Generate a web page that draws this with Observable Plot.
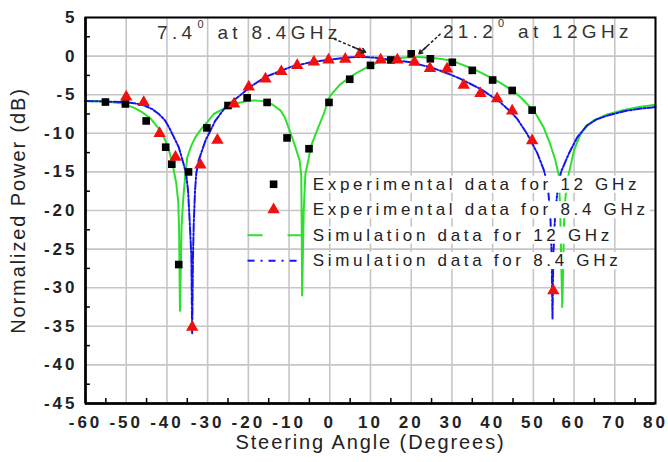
<!DOCTYPE html>
<html>
<head>
<meta charset="utf-8">
<script src="https://cdn.jsdelivr.net/npm/d3@7"></script>
<script src="https://cdn.jsdelivr.net/npm/@observablehq/plot@0.6"></script>
<style>
  body { margin: 0; background: #fff; }
  #chart svg { display: block; }
</style>
</head>
<body>
<div id="chart"></div>
<script>
// ---- data: [steering angle (deg), normalized power (dB)] ----
const sim12 = [
  [-60,-5.8],[-57,-5.85],[-54,-5.95],[-51,-6.15],[-48,-6.7],[-46,-7.3],[-44,-8.1],[-42,-9.4],
  [-40.5,-10.8],[-39.5,-12.2],[-38.5,-14.3],[-37.7,-16.5],[-37.2,-19],[-37.0,-23],[-36.8,-33],
  [-36.4,-22],[-36.0,-18.5],[-35.5,-15.5],[-35,-13.1],[-34,-11.6],[-33,-10.5],[-31.5,-9.4],
  [-30,-8.5],[-28.5,-7.5],[-26,-6.8],[-24,-6.3],[-22,-6.0],[-20,-5.8],[-18.5,-5.75],[-17,-5.8],
  [-15.5,-5.95],[-14,-6.3],[-12,-7.1],[-11,-8.0],[-9.6,-10.0],[-8.5,-11.7],[-7.4,-13.5],
  [-7.0,-15.5],[-6.9,-22],[-6.8,-31],[-6.4,-20],[-6.0,-15.3],[-5.2,-13.3],[-4.7,-11.8],
  [-3.1,-9.6],[-1.5,-7.5],[0,-5.2],[2.5,-3.7],[5,-2.7],[7.5,-1.9],[10,-1.2],[12.5,-0.7],
  [15,-0.4],[18,-0.2],[21.2,-0.1],[24,-0.2],[27,-0.35],[30,-0.6],[32,-1.0],[35,-1.6],[37,-2.1],
  [40,-2.9],[42,-3.5],[45,-4.5],[47,-5.4],[49,-6.5],[50.5,-7.4],[52.5,-9.2],[54,-11.2],
  [55.3,-13.3],[56.2,-15.3],[56.6,-20],[56.9,-28],[57.1,-32.5],[57.3,-28],[57.6,-20],
  [58.2,-16.5],[58.8,-15],[60,-12.2],[61.5,-10.2],[63,-9.0],[65,-8.3],[68,-7.6],[72,-7.0],
  [76,-6.6],[80,-6.3]
];
const sim84 = [
  [-60,-5.8],[-57,-5.85],[-54,-5.9],[-51,-5.95],[-48,-6.1],[-45.5,-6.4],[-43.5,-6.9],[-42,-7.5],
  [-40.5,-8.3],[-39.5,-9.2],[-38.3,-10.5],[-37.1,-11.8],[-36,-13.8],[-35.3,-15.2],[-34.8,-17.5],
  [-34.4,-21.5],[-34.0,-26],[-33.8,-36],[-33.6,-26],[-33.4,-21.5],[-33.1,-17.5],[-32.8,-15.2],
  [-32.2,-13.5],[-30.5,-10.9],[-28.1,-8.35],[-25.6,-6.6],[-22.3,-5.2],[-19.3,-3.9],[-15.8,-2.7],
  [-12,-1.9],[-9.6,-1.4],[-4.7,-0.8],[0,-0.45],[4,-0.2],[7.4,-0.1],[11,-0.2],[14.9,-0.45],
  [19.8,-0.8],[24.7,-1.45],[27.2,-1.9],[29.7,-2.4],[32.1,-2.95],[37,-4.25],[40,-5.3],[41.9,-6.0],
  [44,-7.0],[46,-8.1],[48.5,-10.1],[51,-12.6],[52.6,-14.8],[53.6,-17],[54.2,-21],[54.5,-26],
  [54.7,-34],[54.9,-26],[55.3,-21],[56,-17],[56.8,-15],[58.7,-12.65],[60.8,-10.5],[63.2,-9.0],
  [65.5,-8.2],[68.2,-7.7],[73.1,-7.05],[76.5,-6.8],[80,-6.6]
];
const exp12 = [
  [-55.1,-5.95],[-50.2,-6.2],[-45.1,-8.4],[-40.3,-11.8],[-38.8,-14.0],[-37.1,-27.0],[-34.7,-15.0],
  [-30.2,-9.3],[-25.0,-6.4],[-20.3,-5.4],[-15.4,-6.0],[-10.5,-10.6],[-5.1,-12.0],[-0.2,-6.0],
  [4.9,-3.0],[10.0,-1.2],[15.0,-0.5],[20.0,0.3],[24.7,-0.35],[30.1,-0.8],[35.0,-1.85],
  [40.0,-3.1],[44.8,-4.45],[49.7,-7.0]
];
const exp84 = [
  [-50,-5.3],[-45.7,-6.0],[-41.8,-10.0],[-37.9,-13.1],[-33.8,-35.1],[-31.8,-14.1],[-27.6,-10.9],
  [-23.5,-6.2],[-19.9,-4.0],[-15.8,-2.95],[-11.9,-2.0],[-8.0,-1.2],[-3.9,-0.75],[-0.3,-0.5],
  [3.8,-0.4],[7.4,0.3],[12.5,-0.5],[16.6,-0.5],[20.8,-0.8],[24.6,-1.6],[28.8,-1.65],
  [32.9,-3.75],[37.0,-4.85],[41.1,-5.5],[44.8,-7.1],[49.7,-10.95],[54.9,-30.4]
];
const xTicks = [-60,-50,-40,-30,-20,-10,0,10,20,30,40,50,60,70,80];
const yTicks = [5,0,-5,-10,-15,-20,-25,-30,-35,-40,-45];
const xMinor = [-55,-45,-35,-25,-15,-5,5,15,25,35,45,55,65,75];
const yMinor = [2.5,-2.5,-7.5,-12.5,-17.5,-22.5,-27.5,-32.5,-37.5,-42.5];
const legendLabels = [
  "Experimental data for 12 GHz",
  "Experimental data for 8.4 GHz",
  "Simulation data for 12 GHz",
  "Simulation data for 8.4 GHz"
];
const xTitle = "Steering Angle (Degrees)";
const yTitle = "Normalized Power (dB)";
const annoMain = ["7.4", "21.2"];
const annoSup = ["0", "0"];
const annoRest = [" at 8.4GHz", " at 12GHz"];
const annoX = [-42.3, 27.9];
const annoY = [2.15, 2.28];
const arrowFrom = [[1.0, 2.24], [27.2, 2.89]];
const arrowTo = [[8.8, 0.5], [21.9, 0.3]];

// ---- layout ----
const GREEN = "#2ee02e", BLUE = "#1414f0", RED = "#f01010";
const legendRowY = [-16.6, -19.9, -23.2, -26.5];
const legendSymX = -13.8, legendLineX = [-20.2, -6.7], legendTextX = -4.2;
const legendRows = legendLabels.map((label, i) => ({label, y: legendRowY[i]}));
const arrows = arrowFrom.map((f, i) => ({x1: f[0], y1: f[1], x2: arrowTo[i][0], y2: arrowTo[i][1]}));
const arrowHeads = arrows.map(a => ({x1: a.x1 + (a.x2 - a.x1) * 0.6, y1: a.y1 + (a.y2 - a.y1) * 0.6, x2: a.x2, y2: a.y2}));
const FONT = "'Liberation Sans', Arial, Helvetica, sans-serif";
const fmt = d => String(d);

const chart = Plot.plot({
  width: 668, height: 462,
  marginLeft: 85, marginRight: 13, marginTop: 17, marginBottom: 59,
  x: {domain: [-60, 80]},
  y: {domain: [-45, 5]},
  style: {fontFamily: FONT, background: "#fff", overflow: "visible"},
  marks: [
    Plot.gridX(xTicks, {stroke: "#c6c6c6", strokeOpacity: 1, strokeWidth: 1.6}),
    Plot.gridY(yTicks, {stroke: "#c6c6c6", strokeOpacity: 1, strokeWidth: 1.6}),
    Plot.axisX(xTicks, {tickSize: 0, tickPadding: 12, fontSize: 17, fontWeight: "bold", fill: "#222", label: null, tickFormat: fmt}),
    Plot.axisY(yTicks, {tickSize: 0, tickPadding: 8, fontSize: 17, fontWeight: "bold", fill: "#222", label: null, tickFormat: fmt}),
    Plot.ruleX(xMinor, {y1: -45, y2: -44.35, stroke: "#000", strokeWidth: 1.5}),
    Plot.ruleY(yMinor, {x1: -60, x2: -58.8, stroke: "#000", strokeWidth: 1.5}),
    Plot.line(sim12, {x: d => d[0], y: d => d[1], stroke: GREEN, strokeWidth: 2}),
    Plot.line(sim84, {x: d => d[0], y: d => d[1], stroke: BLUE, strokeWidth: 2, strokeDasharray: "8,2,2,2"}),
    Plot.dot(exp12, {x: d => d[0], y: d => d[1], symbol: "square", r: 4.3, fill: "#000"}),
    Plot.dot(exp84, {x: d => d[0], y: d => d[1], symbol: "triangle", r: 4.6, fill: RED}),
    // legend
    Plot.text(legendRows, {x: () => legendTextX, y: "y", text: "label", textAnchor: "start", fontSize: 17, fill: "#222"}),
    Plot.dot(legendRows.slice(0, 1), {x: () => legendSymX, y: "y", symbol: "square", r: 4.3, fill: "#000"}),
    Plot.dot(legendRows.slice(1, 2), {x: () => legendSymX, y: "y", symbol: "triangle", r: 4.6, fill: RED}),
    Plot.link(legendRows.slice(2, 3), {x1: () => legendLineX[0], x2: () => legendLineX[1], y1: "y", y2: "y", stroke: GREEN, strokeWidth: 2, strokeDasharray: "15,25"}),
    Plot.link(legendRows.slice(3, 4), {x1: () => legendLineX[0], x2: () => legendLineX[1], y1: "y", y2: "y", stroke: BLUE, strokeWidth: 2, strokeDasharray: "7,6,2,6"}),
    // annotation arrows
    Plot.link(arrows, {x1: "x1", y1: "y1", x2: "x2", y2: "y2", stroke: "#222", strokeWidth: 1.5, strokeDasharray: "3,2"}),
    Plot.arrow(arrowHeads, {x1: "x1", y1: "y1", x2: "x2", y2: "y2", stroke: "#222", strokeWidth: 1.5, headLength: 8}),
    // axis titles
    Plot.text([yTitle], {frameAnchor: "left", textAnchor: "middle", dx: -66.5, rotate: -90, fontSize: 20, fill: "#222"}),
    Plot.text([xTitle], {frameAnchor: "bottom", textAnchor: "middle", dy: 45, fontSize: 20, fill: "#222"}),
    Plot.frame({stroke: "#000", strokeWidth: 2}),
    Plot.ruleX([-60], {stroke: "#000", strokeWidth: 2.5}),
    Plot.ruleY([-45], {stroke: "#000", strokeWidth: 2.5})
  ]
});
document.getElementById("chart").appendChild(chart);
const root = chart.tagName.toLowerCase() === "svg" ? chart : chart.querySelector("svg");
const NS = "http://www.w3.org/2000/svg";

// text styling by content
const tickSet = new Set([...xTicks, ...yTicks].map(fmt));
root.querySelectorAll("text").forEach(t => {
  const s = t.textContent;
  if (tickSet.has(s)) t.style.letterSpacing = "3px";
  else if (s === xTitle || s === yTitle) t.style.letterSpacing = "1.9px";
  else if (legendLabels.includes(s)) {
    t.style.letterSpacing = "3.7px";
    const b = t.getBBox();
    const r = document.createElementNS(NS, "rect");
    r.setAttribute("x", b.x - 5);
    r.setAttribute("y", b.y + 1);
    r.setAttribute("width", b.width + 6);
    r.setAttribute("height", b.height - 2);
    r.setAttribute("fill", "#fff");
    r.setAttribute("stroke", "none");
    if (t.getAttribute("transform")) r.setAttribute("transform", t.getAttribute("transform"));
    t.parentNode.insertBefore(r, t);
  }
});

// annotation texts with superscript degree mark
const xs = chart.scale("x"), ys = chart.scale("y");
const svg = d3.select(root);
annoMain.forEach((m, i) => {
  const t = svg.append("text")
    .attr("x", xs.apply(annoX[i]))
    .attr("y", ys.apply(annoY[i]))
    .attr("text-anchor", "start")
    .attr("font-family", FONT)
    .attr("font-size", 19)
    .attr("fill", "#333")
    .style("letter-spacing", "4.3px");
  t.append("tspan").text(m);
  t.append("tspan").attr("font-size", 11).attr("dy", -11).attr("dx", 1).text(annoSup[i]);
  t.append("tspan").attr("dy", 11).text(annoRest[i]);
});
</script>
</body>
</html>
